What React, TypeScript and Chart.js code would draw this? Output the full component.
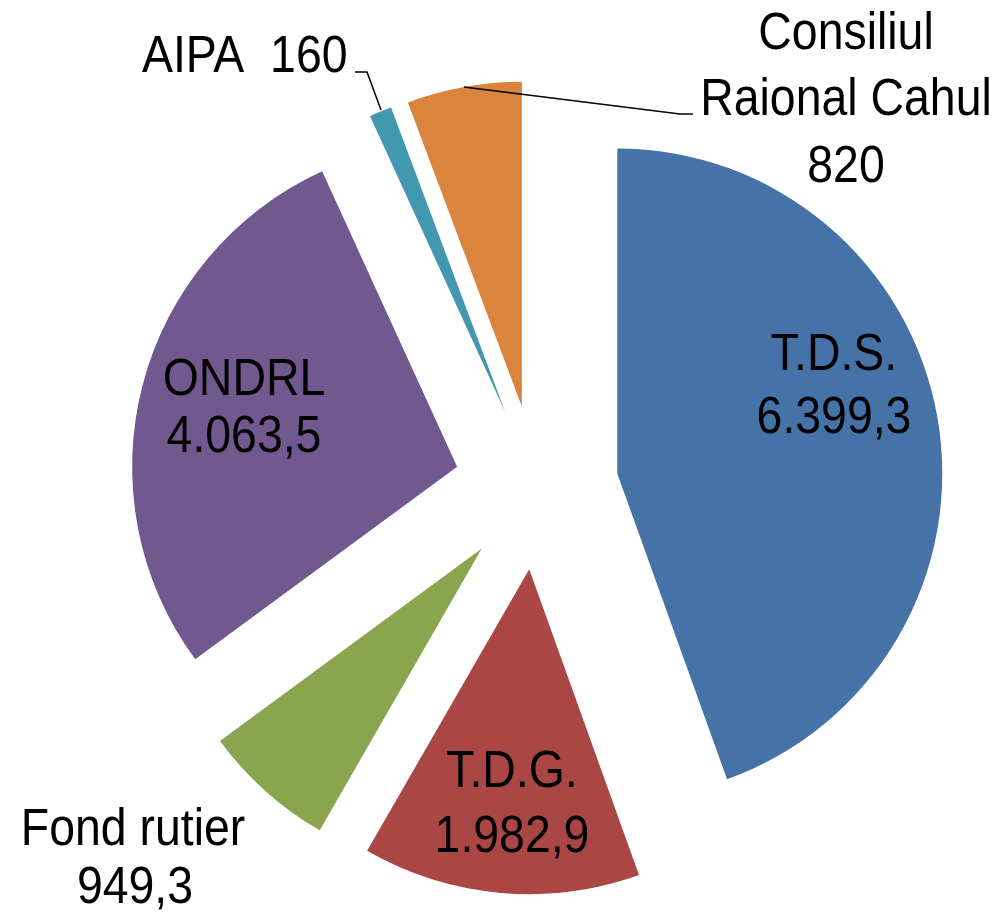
import React, { useEffect, useRef } from "react";
import { Chart, registerables } from "chart.js";

Chart.register(...registerables);

// ---- data ----
const categories = ["T.D.S.", "T.D.G.", "Fond rutier", "ONDRL", "AIPA", "Consiliul Raional Cahul"];
const values = [6399.3, 1982.9, 949.3, 4063.5, 160, 820];
const valueLabels = ["6.399,3", "1.982,9", "949,3", "4.063,5", "160", "820"];
const colors = ["#4572A7", "#AA4643", "#89A54E", "#71588F", "#4198AF", "#DB843D"];

// label text lines per slice
const labelLines: string[][] = [
  ["T.D.S.", valueLabels[0]],
  ["T.D.G.", valueLabels[1]],
  ["Fond rutier", valueLabels[2]],
  ["ONDRL", valueLabels[3]],
  ["AIPA  " + valueLabels[4]],
  ["Consiliul", "Raional Cahul", valueLabels[5]],
];

// ---- layout (positions / styles) ----
const EXPLODE = 82;
const RADIUS = 325;
const FONT_SIZE = 51;
const X_SCALE = 0.91;
// [x, baseline y] for each line, and alignment
const labelLayout: { align: "center" | "left"; pos: [number, number][] }[] = [
  { align: "center", pos: [[834, 370], [834, 433]] },
  { align: "center", pos: [[512, 787], [512, 852]] },
  { align: "center", pos: [[133, 845], [135, 903]] },
  { align: "center", pos: [[244, 395], [244, 452]] },
  { align: "left", pos: [[142, 72]] },
  { align: "center", pos: [[846, 49], [846, 115], [846, 182]] },
];
const leaderLines: [number, number][][] = [
  [[355, 72], [367, 72], [381, 110]],
  [[464, 87], [680, 114], [693, 114]],
];

const explodePlugin = {
  id: "explodePie",
  beforeDatasetDraw(chart: any, args: any) {
    const ctx = chart.ctx;
    args.meta.data.forEach((arc: any) => {
      const a = (arc.startAngle + arc.endAngle) / 2;
      ctx.save();
      ctx.translate(Math.cos(a) * EXPLODE, Math.sin(a) * EXPLODE);
      arc.draw(ctx, chart.chartArea);
      ctx.restore();
    });
    return false;
  },
};

const labelsPlugin = {
  id: "sliceLabels",
  afterDraw(chart: any) {
    const ctx = chart.ctx;
    ctx.save();
    ctx.strokeStyle = "#000";
    ctx.lineWidth = 1.5;
    leaderLines.forEach((pts) => {
      ctx.beginPath();
      pts.forEach(([x, y], i) => (i === 0 ? ctx.moveTo(x, y) : ctx.lineTo(x, y)));
      ctx.stroke();
    });
    ctx.fillStyle = "#000";
    ctx.font = `${FONT_SIZE}px "Liberation Sans", Arial, sans-serif`;
    ctx.textBaseline = "alphabetic";
    labelLines.forEach((lines, i) => {
      const lay = labelLayout[i];
      lines.forEach((t, j) => {
        const [x, y] = lay.pos[j];
        ctx.save();
        ctx.translate(x, y);
        ctx.scale(X_SCALE, 1);
        ctx.textAlign = lay.align;
        ctx.fillText(t, 0, 0);
        ctx.restore();
      });
    });
    ctx.restore();
  },
};

export default function App() {
  const ref = useRef<HTMLCanvasElement>(null);
  useEffect(() => {
    if (!ref.current) return;
    const chart = new Chart(ref.current, {
      type: "pie",
      data: {
        labels: categories,
        datasets: [
          {
            data: values,
            backgroundColor: colors,
            borderWidth: 0,
            radius: RADIUS,
          } as any,
        ],
      },
      options: {
        animation: false,
        responsive: false,
        layout: { padding: { left: 69, top: 58, right: 0, bottom: 0 } },
        plugins: {
          legend: { display: false },
          tooltip: { enabled: false },
        },
      },
      plugins: [explodePlugin, labelsPlugin],
    });
    return () => chart.destroy();
  }, []);
  return (
    <div style={{ position: "absolute", left: 0, top: 0, width: 1004, height: 917, background: "#fff" }}>
      <canvas ref={ref} width={1004} height={917} />
    </div>
  );
}
